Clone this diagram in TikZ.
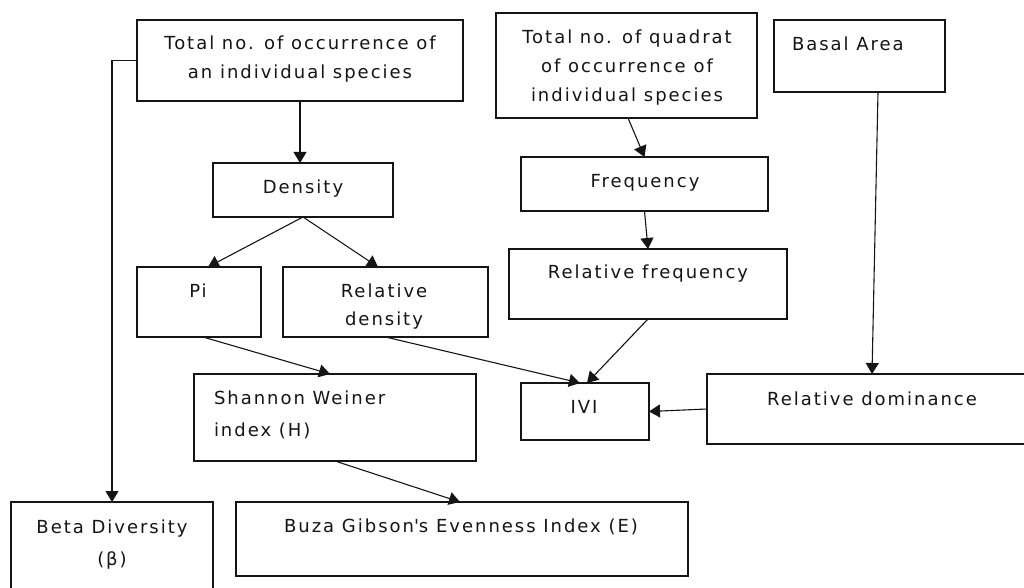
\documentclass[tikz,border=0pt]{standalone}
\usepackage{fontspec}
\setmainfont{DejaVu Sans}[LetterSpace=11]
\usetikzlibrary{arrows.meta}
\definecolor{ink}{HTML}{151515}
\font\apf="DejaVu Sans:letterspace=11" at 18pt
\begin{document}
\begin{tikzpicture}[x=1pt,y=-1pt,
  box/.style={draw=ink,line width=1.2pt,inner sep=0pt,outer sep=0pt,fill=none},
  txt/.style={inner sep=0pt,outer sep=0pt,text=ink,font=\fontsize{18}{29}\selectfont},
  arr/.style={draw=ink,line width=1.1pt,-{Triangle[length=11pt,width=13pt]}}]
\useasboundingbox[fill=white] (0,0) rectangle (1024,588);
% boxes
\newcommand\bx[5]{\node[box,anchor=north west,minimum width=#4-#2,minimum height=#5-#3] (#1) at (#2,#3) {};}
\bx{b1}{137}{20}{463}{101}
\bx{dens}{213}{163}{393}{217}
\bx{pi}{137}{267}{261}{337}
\bx{rd}{283}{267}{488}{337}
\bx{quad}{496}{13}{757}{118}
\bx{basal}{774}{20}{945}{92}
\bx{freq}{521}{157}{768}{211}
\bx{rfreq}{509}{249}{787}{319}
\bx{ivi}{521}{383}{649}{440}
\bx{rdom}{707}{374}{1034}{444}
\bx{shan}{194}{374}{476}{461}
\bx{beta}{11}{502}{213}{598}
\bx{buza}{236}{502}{688}{576}
% texts
\node[txt,anchor=north,align=center] (t1) at (300,36) {Total no. of occurrence of\\an individual species};
\node[txt,anchor=north,align=center] (tq) at (627,30) {Total no. of quadrat\\of occurrence of\\individual species};
\node[txt,anchor=north west] (tb) at (792,37) {Basal Area};
\node[txt,anchor=north] (td) at (303,180) {Density};
\node[txt,anchor=north] (tp) at (198,284) {Pi};
\node[txt,anchor=north,align=center,font=\fontsize{18}{28}\selectfont] (tr) at (384,284) {Relative\\density};
\node[txt,anchor=north] (tf) at (645,174) {Frequency};
\node[txt,anchor=north] (trf) at (648,265) {Relative frequency};
\node[txt,anchor=north] (ti) at (584,400) {IVI};
\node[txt,anchor=north] (trd) at (872,392) {Relative dominance};
\node[txt,anchor=north west,align=left,font=\fontsize{18}{32}\selectfont] (ts) at (214,391) {Shannon Weiner\\index (H)};
\node[txt,anchor=north,align=center,font=\fontsize{18}{32}\selectfont] (tbe) at (112,520) {Beta Diversity\\(β)};
\node[txt,anchor=north] (tbu) at (461,519) {Buza Gibson{\apf '}s Evenness Index (E)};
% connectors
\draw[arr] (b1.south) -- (b1.south |- dens.north);
\draw[arr] (b1.west) -| (beta.north);
\draw[arr] (dens.south) -- ([xshift=9pt]pi.north);
\draw[arr] (dens.south) -- ([xshift=-7.5pt]rd.north);
\draw[arr] ([xshift=4pt]pi.south) -- ([xshift=-5pt]shan.north);
\draw[arr] (rd.south) -- ([xshift=-5pt]ivi.north);
\draw[arr] ([xshift=1.5pt]quad.south) -- (freq.north);
\draw[arr] (freq.south) -- (rfreq.north);
\draw[arr] (rfreq.south) -- ([xshift=2pt]ivi.north);
\draw[arr] ([xshift=18.5pt]basal.south) -- ([xshift=165pt]rdom.north west);
\draw[arr] (rdom.west) -- (ivi.east);
\draw[arr] (shan.south) -- ([xshift=-2pt]buza.north);
\end{tikzpicture}
\end{document}
